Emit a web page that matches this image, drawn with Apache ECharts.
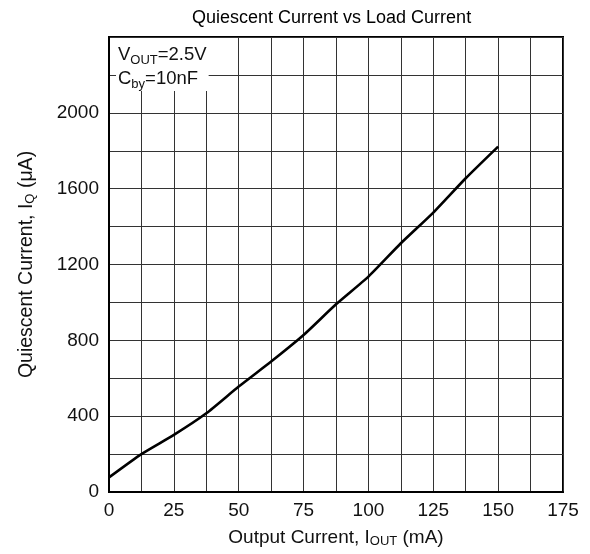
<!DOCTYPE html>
<html>
<head>
<meta charset="utf-8">
<script src="https://cdn.jsdelivr.net/npm/echarts@6/dist/echarts.min.js"></script>
<style>html,body{margin:0;padding:0;background:#fff}#c{width:590px;height:554px}</style>
</head>
<body>
<div id="c"></div>
<script>
var outputCurrent = [0, 12.5, 25, 37.5, 50, 62.5, 75, 87.5, 100, 112.5, 125, 137.5, 150];
var quiescentCurrent = [77, 200, 301, 415, 556, 688, 828, 990, 1136, 1312, 1474, 1655, 1822];
var xTickLabels = [0, 25, 50, 75, 100, 125, 150, 175];
var yTickLabels = [0, 400, 800, 1200, 1600, 2000];

var FONT = '"Liberation Sans", Arial, sans-serif';
var chart = echarts.init(document.getElementById('c'));
var data = outputCurrent.map(function (x, i) { return [x, quiescentCurrent[i]]; });

var subStyle = { fontFamily: FONT, fontSize: 13, color: '#111', verticalAlign: 'bottom', padding: [8, 0, 0, 0] };

chart.setOption({
  animation: false,
  backgroundColor: '#fff',
  title: {
    text: 'Quiescent Current vs Load Current',
    left: 187, top: 4,
    textStyle: { fontFamily: FONT, fontSize: 18, fontWeight: 'normal', color: '#000' }
  },
  grid: { left: 109, right: 27, top: 37, bottom: 62, show: true, borderColor: '#000', borderWidth: 2, backgroundColor: 'transparent' },
  xAxis: {
    type: 'value', min: 0, max: 175, interval: 12.5,
    axisLine: { show: true, lineStyle: { color: '#000', width: 2 } },
    axisTick: { show: false },
    splitLine: { show: true, lineStyle: { color: '#333', width: 1 } },
    axisLabel: {
      margin: 9, fontFamily: FONT, fontSize: 19, color: '#111',
      formatter: function (v) { return xTickLabels.indexOf(v) >= 0 ? String(v) : ''; }
    },
    name: 'Output Current, I{s|OUT} (mA)',
    nameLocation: 'middle', nameGap: 35,
    nameTextStyle: { fontFamily: FONT, fontSize: 19, color: '#111', rich: { s: subStyle } }
  },
  yAxis: {
    type: 'value', min: 0, max: 2400, interval: 200,
    axisLine: { show: true, lineStyle: { color: '#000', width: 2 } },
    axisTick: { show: false },
    splitLine: { show: true, lineStyle: { color: '#333', width: 1 } },
    axisLabel: {
      margin: 10, fontFamily: FONT, fontSize: 19, color: '#111',
      formatter: function (v) { return yTickLabels.indexOf(v) >= 0 ? String(v) : ''; }
    },
    name: 'Quiescent Current, I{s|Q} (\u03bcA)',
    nameLocation: 'middle', nameGap: 72,
    nameTextStyle: { fontFamily: FONT, fontSize: 19.5, color: '#111', rich: { s: subStyle } }
  },
  graphic: [{
    type: 'text', left: 116, top: 38, z: 100,
    style: {
      text: '{b|V}{s|OUT}{b|=2.5V}\n{b|C}{s|by}{b|=10nF}',
      backgroundColor: '#fff',
      padding: [5, 2, 0, 2],
      rich: {
        b: { fontFamily: FONT, fontSize: 18.5, fill: '#111', lineHeight: 24 },
        s: { fontFamily: FONT, fontSize: 13, fill: '#111', lineHeight: 24, verticalAlign: 'bottom', padding: [7, 0, 0, 0] }
      }
    }
  }],
  series: [{
    type: 'line', data: data, showSymbol: false, smooth: 0.2,
    lineStyle: { color: '#000', width: 2.6 }, z: 5
  }]
});
</script>
</body>
</html>
